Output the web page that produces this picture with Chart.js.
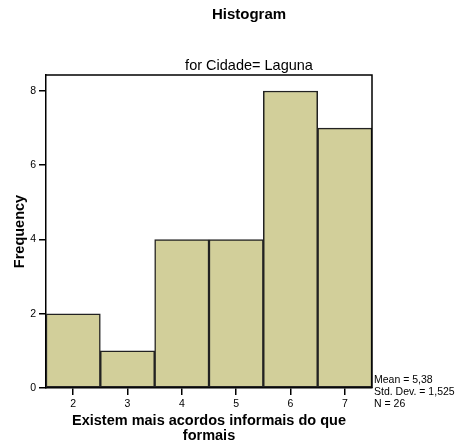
<!DOCTYPE html>
<html>
<head>
<meta charset="utf-8">
<script src="https://cdn.jsdelivr.net/npm/chart.js@4.4.0/dist/chart.umd.min.js"></script>
<style>
  html, body { margin: 0; padding: 0; background: #fff; }
  #wrap { width: 456px; height: 446px; }
</style>
</head>
<body>
<div id="wrap"><canvas id="histo"></canvas></div>
<script>
// values
var categories = ['2', '3', '4', '5', '6', '7'];
var frequency = [2, 1, 4, 4, 8, 7];
var yTicks = [0, 2, 4, 6, 8];
var statsLines = ['Mean = 5,38', 'Std. Dev. = 1,525', 'N = 26'];

var FONT = '"Liberation Sans", Arial, Helvetica, sans-serif';

// frame, titles and stats box
var decor = {
	id: 'decor',
	afterDraw: function(chart) {
		var c = chart.ctx;
		var a = chart.chartArea;
		c.save();
		c.strokeStyle = '#000';
		c.lineWidth = 1.5;
		c.beginPath();
		c.moveTo(a.left, a.top);
		c.lineTo(a.right, a.top);
		c.lineTo(a.right, a.bottom);
		c.stroke();

		c.fillStyle = '#000';
		c.textAlign = 'center';
		c.textBaseline = 'middle';
		c.font = 'bold 15px ' + FONT;
		c.fillText('Histogram', 249, 15);
		c.font = '14.5px ' + FONT;
		c.fillText('for Cidade= Laguna', 249, 66);

		c.textAlign = 'left';
		c.font = '10.5px ' + FONT;
		for (var i = 0; i < statsLines.length; i++) {
			c.fillText(statsLines[i], a.right + 2, 380 + i * 12);
		}
		c.restore();
	}
};

var ctx = document.getElementById('histo');

var chart = new Chart(ctx, {
	type: 'bar',
	data: {
		labels: categories,
		datasets: [{
			label: 'Frequency',
			data: frequency,
			backgroundColor: '#D2CF9A',
			borderColor: '#222',
			borderWidth: 1.5,
			borderSkipped: false,
			barPercentage: 1.0,
			categoryPercentage: 1.0
		}]
	},
	options: {
		responsive: true,
		maintainAspectRatio: false,
		animation: false,
		layout: { padding: { left: 0, top: 75, right: 84, bottom: 0 } },
		plugins: {
			legend: { display: false },
			tooltip: { enabled: false }
		},
		scales: {
			x: {
				grid: {
					offset: false,
					drawOnChartArea: false,
					drawTicks: true,
					tickLength: 7,
					color: '#000',
					lineWidth: 1.5
				},
				border: { display: true, color: '#000', width: 1.5 },
				ticks: {
					color: '#000',
					font: { family: FONT, size: 10.5 },
					padding: 3,
					maxRotation: 0
				},
				title: {
					display: true,
					text: ['Existem mais acordos informais do que', 'formais'],
					color: '#000',
					font: { family: FONT, size: 14.5, weight: 'bold', lineHeight: 1.05 },
					padding: { top: 0, bottom: 2 }
				},
				afterFit: function(scale) { scale.height = 58; }
			},
			y: {
				min: 0,
				max: 8.43,
				afterBuildTicks: function(scale) {
					scale.ticks = yTicks.map(function(v) { return { value: v }; });
				},
				grid: {
					drawOnChartArea: false,
					drawTicks: true,
					tickLength: 7,
					color: '#000',
					lineWidth: 1.5
				},
				border: { display: true, color: '#000', width: 1.5 },
				ticks: {
					color: '#000',
					font: { family: FONT, size: 10.5 },
					padding: 3
				},
				title: {
					display: true,
					text: 'Frequency',
					color: '#000',
					font: { family: FONT, size: 14.5, weight: 'bold' },
					padding: { top: 11, bottom: 0 }
				},
				afterFit: function(scale) { scale.width = 46; }
			}
		}
	},
	plugins: [decor]
});
</script>
</body>
</html>
